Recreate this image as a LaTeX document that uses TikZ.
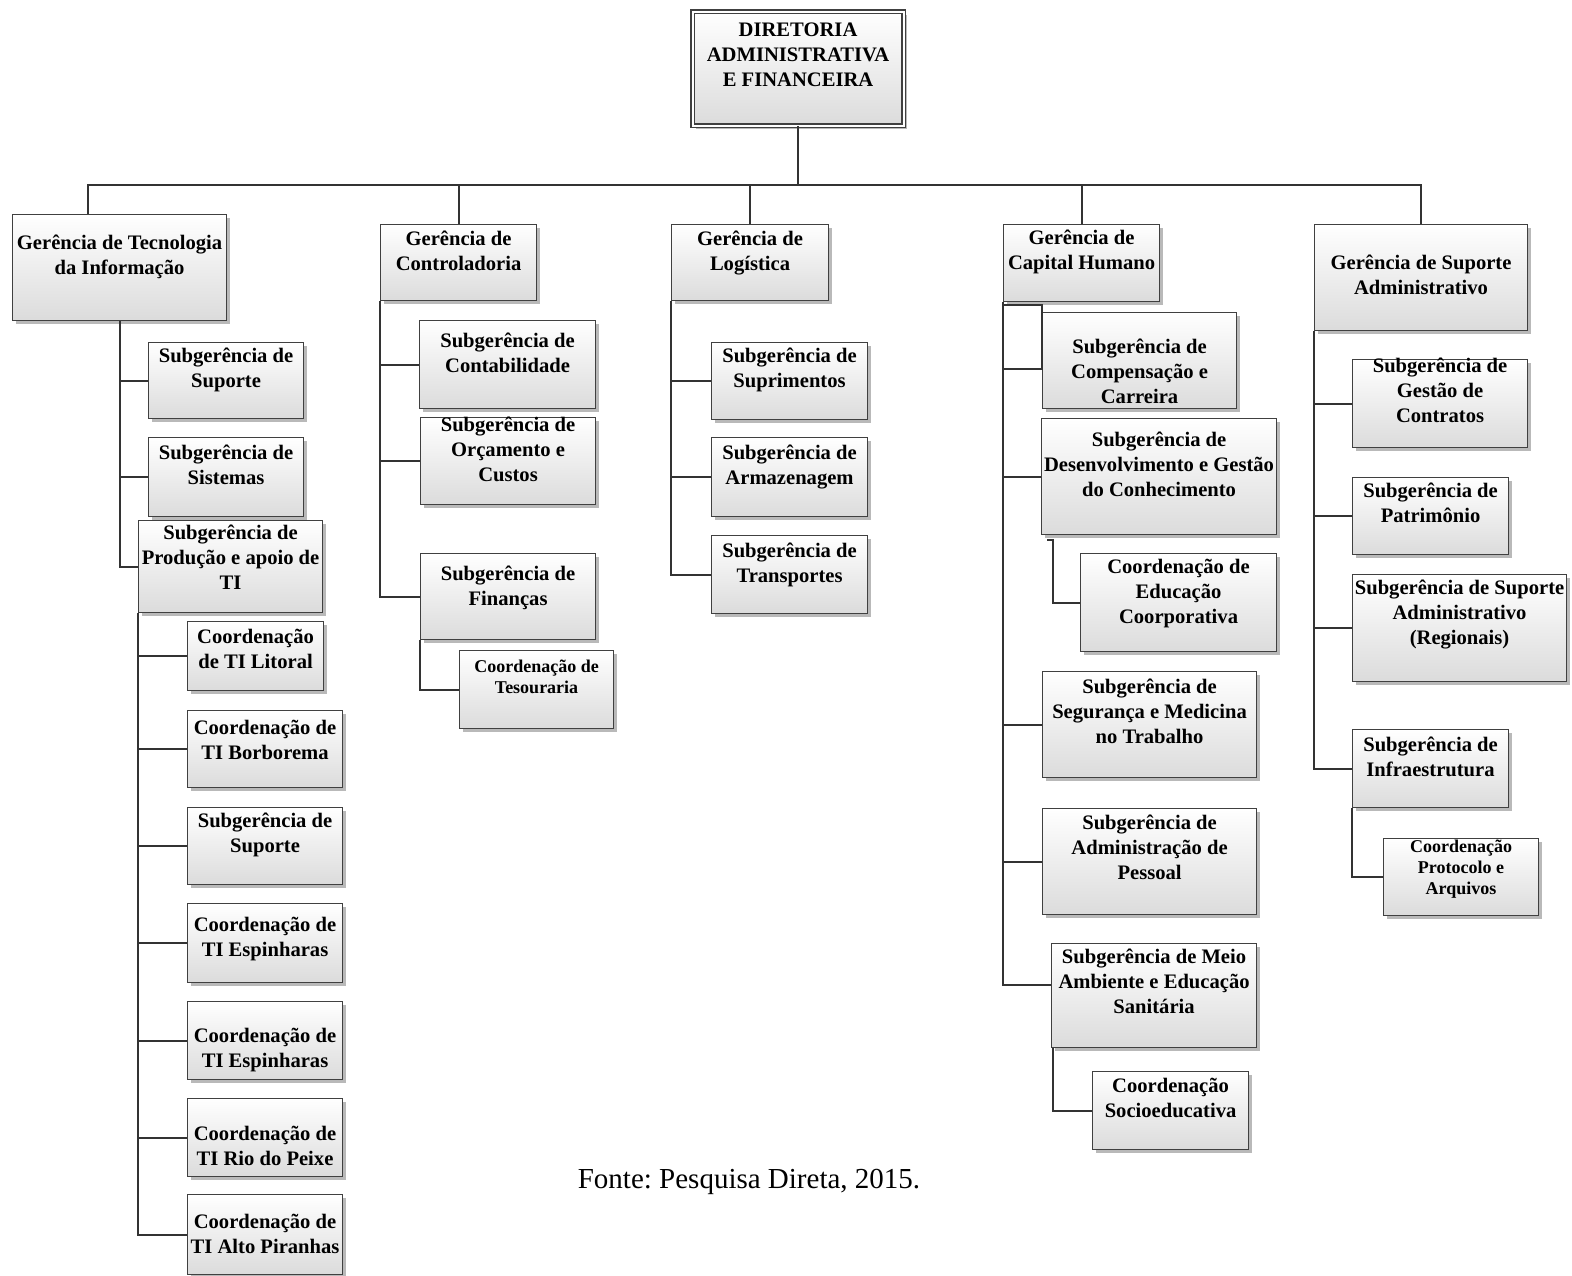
\documentclass[tikz,border=0pt]{standalone}
\usepackage{fontspec}
\setmainfont{Liberation Serif}
\usetikzlibrary{shapes,arrows,positioning,calc,shadows}

\begin{document}
\begin{tikzpicture}[x=1pt,y=-1pt]
\tikzstyle{link} = [draw=black!80, line width=2pt]
\tikzset{
  orgbox/.style n args={3}{rectangle, anchor=north west, inner sep=0pt, draw=black!75, line width=1.1pt,
    top color=white, bottom color=gray!28,
    drop shadow={shadow xshift=3.5pt, shadow yshift=-3.5pt, fill=black!55, opacity=0.5},
    font=\fontsize{20.6}{25}\selectfont\bfseries,
    execute at begin node={\begin{minipage}[c][#2pt][t]{#1pt}\centering
      \leftskip=-1em plus 1fil\rightskip=-1em plus 1fil
      \vspace*{\dimexpr#3pt-\ht\strutbox\relax}\strut},
    execute at end node={\end{minipage}}},
  smallbox/.style n args={3}{orgbox={#1}{#2}{#3}, font=\fontsize{18}{21}\selectfont\bfseries},
  topbox/.style={double=white, double distance=2pt}
}
\useasboundingbox (0,0) rectangle (1572,1276);

% Diretoria at the top
\node [orgbox={211}{114}{25}, topbox] (dir) at (692,11) {DIRETORIA\\ADMINISTRATIVA\\E FINANCEIRA};
\coordinate (bus) at ($(dir.south)+(0,59)$);

% Gerencias
\node [orgbox={214}{106}{35}] (ti) at (12,214) {Gerência de Tecnologia\\da Informação};
\node [orgbox={156}{76}{21}] (ctrl) at (380,224) {Gerência de\\Controladoria};
\node [orgbox={157}{76}{21}] (log) at (671,224) {Gerência de\\Logística};
\node [orgbox={156}{77}{20}] (cap) at (1003,224) {Gerência de\\Capital Humano};
\node [orgbox={213}{106}{45}] (gsa) at (1314,224) {Gerência de Suporte\\Administrativo};

% Tecnologia da Informacao
\node [orgbox={155}{76}{20}] (tisup) at (148,342) {Subgerência de\\Suporte};
\node [orgbox={155}{79}{22}] (tisis) at (148,437) {Subgerência de\\Sistemas};
\node [orgbox={184}{92}{19}] (tiprod) at (138,520) {Subgerência de\\Produção e apoio de\\TI};
\node [orgbox={136}{69}{22}] (lit) at (187,621) {Coordenação\\de TI Litoral};
\node [orgbox={155}{77}{24}] (bor) at (187,710) {Coordenação de\\TI Borborema};
\node [orgbox={155}{77}{20}] (sup2) at (187,807) {Subgerência de\\Suporte};
\node [orgbox={155}{79}{28}] (esp1) at (187,903) {Coordenação de\\TI Espinharas};
\node [orgbox={155}{78}{41}] (esp2) at (187,1001) {Coordenação de\\TI Espinharas};
\node [orgbox={155}{78}{42}] (rio) at (187,1098) {Coordenação de\\TI Rio do Peixe};
\node [orgbox={155}{80}{34}] (alto) at (187,1194) {Coordenação de\\TI Alto Piranhas};

% Controladoria
\node [orgbox={176}{88}{27}] (cont) at (419,320) {Subgerência de\\Contabilidade};
\node [orgbox={175}{87}{14}] (orc) at (420,417) {Subgerência de\\Orçamento e\\Custos};
\node [orgbox={175}{86}{27}] (fin) at (420,553) {Subgerência de\\Finanças};
\node [smallbox={154}{78}{22}] (tes) at (459,650) {Coordenação de\\Tesouraria};

% Logistica
\node [orgbox={156}{77}{20}] (supr) at (711,342) {Subgerência de\\Suprimentos};
\node [orgbox={156}{79}{22}] (arm) at (711,437) {Subgerência de\\Armazenagem};
\node [orgbox={156}{78}{22}] (tra) at (711,535) {Subgerência de\\Transportes};

% Capital Humano
\node [orgbox={194}{96}{41}] (comp) at (1042,312) {Subgerência de\\Compensação e\\Carreira};
\node [orgbox={235}{116}{28}] (des) at (1041,418) {Subgerência de\\Desenvolvimento e Gestão\\do Conhecimento};
\node [orgbox={196}{98}{20}] (edu) at (1080,553) {Coordenação de\\Educação\\Coorporativa};
\node [orgbox={214}{106}{22}] (seg) at (1042,671) {Subgerência de\\Segurança e Medicina\\no Trabalho};
\node [orgbox={214}{106}{21}] (pes) at (1042,808) {Subgerência de\\Administração de\\Pessoal};
\node [orgbox={205}{104}{20}] (meio) at (1051,943) {Subgerência de Meio\\Ambiente e Educação\\Sanitária};
\node [orgbox={156}{78}{21}] (soc) at (1092,1071) {Coordenação\\Socioeducativa};

% Suporte Administrativo
\node [orgbox={175}{88}{13}] (ges) at (1352,359) {Subgerência de\\Gestão de\\Contratos};
\node [orgbox={156}{77}{20}] (pat) at (1352,477) {Subgerência de\\Patrimônio};
\node [orgbox={214}{107}{20}] (reg) at (1352,574) {Subgerência de Suporte\\Administrativo\\(Regionais)};
\node [orgbox={156}{78}{22}] (inf) at (1352,729) {Subgerência de\\Infraestrutura};
\node [smallbox={155}{77}{14}] (pro) at (1383,838) {Coordenação\\Protocolo e\\Arquivos};

% Connectors
\draw [link] (dir.south) -- (bus);
\draw [link] ([xshift=76pt]ti.north west) |- (bus);
\foreach \g in {ctrl,log,cap,gsa} \draw [link] (\g.north) |- (bus);
\foreach \c in {tisup,tisis,tiprod} \draw [link] (ti.south) |- (\c.west);
\foreach \c in {lit,bor,sup2,esp1,esp2,rio,alto} \draw [link] (tiprod.south west) |- (\c.west);
\foreach \c in {cont,orc,fin} \draw [link] (ctrl.south west) |- (\c.west);
\draw [link] (fin.south west) |- (tes.west);
\foreach \c in {supr,arm,tra} \draw [link] (log.south west) |- (\c.west);
\draw [link] ([yshift=-3pt]cap.south west) -| ([yshift=-8pt]comp.west) -| (cap.south west);
\foreach \c in {des,seg,pes} \draw [link] (cap.south west) |- (\c.west);
\draw [link] (cap.south west) |- ([yshift=11pt]meio.west);
\draw [link] ([xshift=6pt,yshift=-5pt]des.south west) -- ++(6,0) |- (edu.west);
\draw [link] ([xshift=2pt]meio.south west) |- (soc.west);
\foreach \c in {ges,pat,reg,inf} \draw [link] (gsa.south west) |- (\c.west);
\draw [link] (inf.south west) |- (pro.west);

% Source
\node [font=\fontsize{29}{34}\selectfont\frenchspacing] (fonte) at (749,1182) {Fonte: Pesquisa Direta, 2015.};

\end{tikzpicture}
\end{document}
